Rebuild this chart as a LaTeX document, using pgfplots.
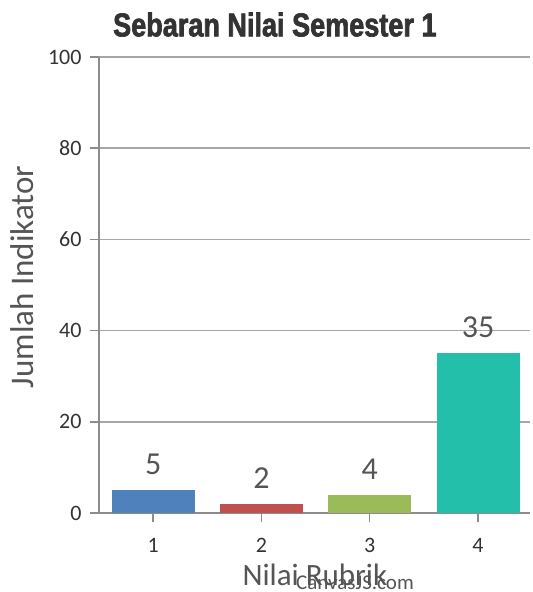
\documentclass[border=0pt]{standalone}
\usepackage{pgfplots}
\pgfplotsset{compat=1.18}
\usepackage{fontspec}
\setmainfont{Carlito}
\newfontfamily\titlefont[FakeStretch=0.82, FakeBold=2]{Liberation Sans Bold}

\definecolor{cblue}{HTML}{4F81BC}
\definecolor{cred}{HTML}{C0504E}
\definecolor{cgreen}{HTML}{9BBB58}
\definecolor{cteal}{HTML}{23BFAA}
\definecolor{gridc}{HTML}{A6A6A6}
\definecolor{axisc}{HTML}{8C8C8C}
\definecolor{labc}{HTML}{555555}
\definecolor{tickc}{HTML}{333333}

\begin{document}
\begin{tikzpicture}
\useasboundingbox (-99bp,-79bp) rectangle (434bp,513bp);
\begin{axis}[
    scale only axis,
    width=431bp, height=456bp,
    clip=false,
    xmin=0.5, xmax=4.48,
    ymin=0, ymax=100,
    ytick={0,20,40,60,80,100},
    xtick={1,2,3,4},
    axis x line*=bottom,
    axis y line*=left,
    axis line style={axisc, line width=1.6bp, -},
    ymajorgrids,
    grid style={gridc, line width=1.4bp},
    tick align=outside,
    major tick length=9bp,
    tick style={axisc, line width=1.4bp},
    /pgf/number format/assume math mode=true,
    ticklabel style={font=\fontsize{22bp}{24bp}\selectfont, text=tickc},
    xticklabel style={yshift=-13bp},
    yticklabel style={xshift=-5bp},
    title={\titlefont\fontsize{33bp}{36bp}\selectfont Sebaran Nilai Semester 1},
    title style={at={(axis description cs:0.408,1.058)}, anchor=center, text=tickc},
    xlabel={Nilai Rubrik},
    xlabel style={at={(axis description cs:0.501,-0.136)}, anchor=center,
        font=\fontsize{31bp}{33bp}\selectfont, text=labc},
    ylabel={Jumlah Indikator},
    ylabel style={at={(axis description cs:-0.179,0.518)}, anchor=center,
        font=\fontsize{33bp}{35bp}\selectfont, text=labc},
    ybar, bar width=83bp, bar shift=0pt,
    nodes near coords,
    every node near coord/.append style={anchor=center, yshift=26bp,
        font=\fontsize{32bp}{34bp}\selectfont, text=labc},
]
\addplot[fill=cblue, draw=none] coordinates {(1,5)};
\addplot[fill=cred, draw=none] coordinates {(2,2)};
\addplot[fill=cgreen, draw=none] coordinates {(3,4)};
\addplot[fill=cteal, draw=none] coordinates {(4,35)};
\node[font=\fontsize{21bp}{23bp}\selectfont, text=labc, anchor=center]
    at (axis description cs:0.594,-0.153) {CanvasJS.com};
\end{axis}
\end{tikzpicture}
\end{document}
